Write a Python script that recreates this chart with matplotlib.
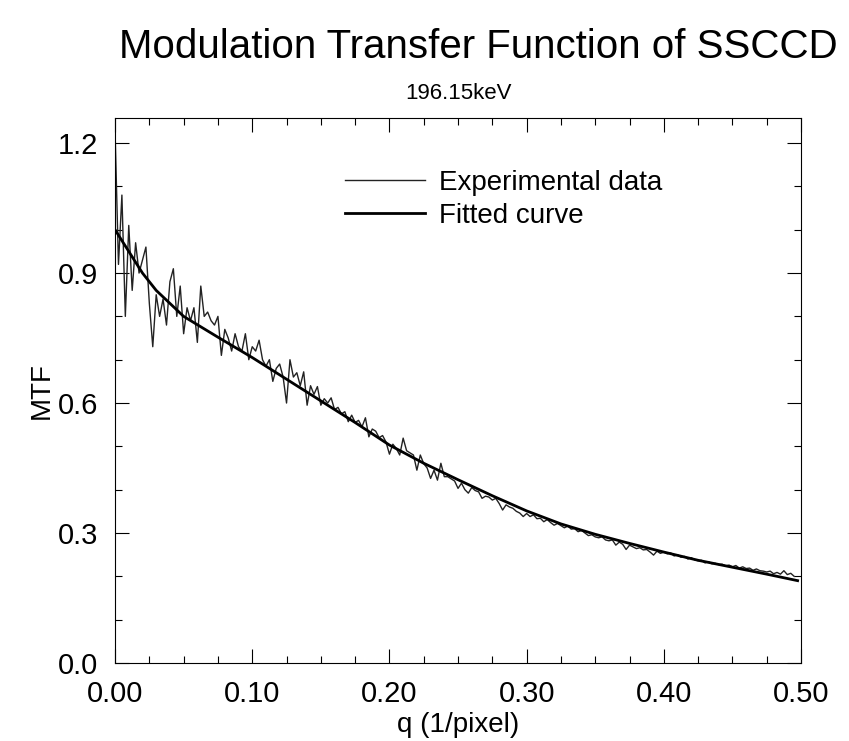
import numpy as np
import matplotlib
matplotlib.use('Agg')
import matplotlib.pyplot as plt
from matplotlib.ticker import MultipleLocator, FormatStrFormatter

plt.rcParams['font.family'] = ['Liberation Sans', 'DejaVu Sans']

# 実験データ（q = 0 .. 0.495, 刻み 0.0025）
mtf_exp = [
    1.23, 0.92, 1.08, 0.80, 1.01, 0.86, 0.97, 0.90, 0.93, 0.96,
    0.83, 0.73, 0.85, 0.80, 0.84, 0.78, 0.88, 0.91, 0.80, 0.87,
    0.76, 0.82, 0.79, 0.82, 0.74, 0.87, 0.80, 0.81, 0.79, 0.78,
    0.80, 0.71, 0.77, 0.75, 0.72, 0.76, 0.73, 0.72, 0.76, 0.70,
    0.73, 0.72, 0.745, 0.70, 0.685, 0.70, 0.65, 0.68, 0.69, 0.66,
    0.60, 0.70, 0.66, 0.67, 0.64, 0.672, 0.595, 0.64, 0.62, 0.638,
    0.595, 0.61, 0.60, 0.612, 0.585, 0.59, 0.575, 0.58, 0.557, 0.572,
    0.555, 0.56, 0.545, 0.566, 0.522, 0.54, 0.535, 0.52, 0.525, 0.51,
    0.482, 0.505, 0.495, 0.48, 0.519, 0.49, 0.485, 0.48, 0.445, 0.48,
    0.46, 0.45, 0.426, 0.445, 0.422, 0.461, 0.43, 0.43, 0.425, 0.42,
    0.403, 0.415, 0.40, 0.392, 0.405, 0.398, 0.395, 0.38, 0.385, 0.383,
    0.376, 0.38, 0.368, 0.353, 0.365, 0.36, 0.357, 0.35, 0.346, 0.338,
    0.345, 0.338, 0.342, 0.333, 0.334, 0.326, 0.331, 0.324, 0.318, 0.322,
    0.317, 0.312, 0.316, 0.309, 0.31, 0.303, 0.306, 0.300, 0.294, 0.296,
    0.291, 0.289, 0.291, 0.284, 0.282, 0.284, 0.272, 0.279, 0.274, 0.262,
    0.272, 0.268, 0.264, 0.266, 0.261, 0.262, 0.256, 0.249, 0.258, 0.253,
    0.256, 0.252, 0.254, 0.247, 0.250, 0.244, 0.246, 0.240, 0.243, 0.238,
    0.236, 0.237, 0.231, 0.234, 0.229, 0.230, 0.227, 0.228, 0.224, 0.226,
    0.222, 0.225, 0.219, 0.222, 0.218, 0.219, 0.214, 0.217, 0.213, 0.212,
    0.210, 0.212, 0.206, 0.209, 0.205, 0.213, 0.204, 0.207, 0.200,
]
q_exp = np.linspace(0, 0.495, len(mtf_exp))

# フィット曲線
q_fit = [0, 0.01, 0.02, 0.03, 0.04, 0.05, 0.075, 0.1, 0.125, 0.15, 0.175, 0.2,
         0.225, 0.25, 0.275, 0.3, 0.325, 0.35, 0.375, 0.4, 0.425, 0.45, 0.475, 0.4975]
mtf_fit = [1.00, 0.95, 0.90, 0.86, 0.83, 0.80, 0.752, 0.705, 0.655, 0.605, 0.555, 0.503,
           0.461, 0.423, 0.386, 0.351, 0.321, 0.297, 0.276, 0.256, 0.237, 0.221, 0.205, 0.19]

fig = plt.figure(figsize=(8.49, 7.41), dpi=100)
ax = fig.add_axes([0.1355, 0.1053, 0.808, 0.7355])

ax.plot(q_exp, mtf_exp, color='#222222', lw=1.0, label='Experimental data')
ax.plot(q_fit, mtf_fit, color='black', lw=2.0, label='Fitted curve')

ax.set_xlim(0, 0.5)
ax.set_ylim(0, 1.258)
ax.xaxis.set_major_locator(MultipleLocator(0.1))
ax.xaxis.set_minor_locator(MultipleLocator(0.025))
ax.yaxis.set_major_locator(MultipleLocator(0.3))
ax.yaxis.set_minor_locator(MultipleLocator(0.1))
ax.xaxis.set_major_formatter(FormatStrFormatter('%.2f'))
ax.yaxis.set_major_formatter(FormatStrFormatter('%.1f'))
ax.tick_params(which='both', direction='in', top=True, right=True, labelsize=21, width=0.8)
ax.tick_params(which='major', length=10)
ax.tick_params(which='minor', length=5)
ax.tick_params(axis='x', which='major', pad=12)
ax.tick_params(axis='y', which='major', pad=12)
for s in ax.spines.values():
    s.set_linewidth(0.8)

ax.set_xlabel('q (1/pixel)', fontsize=20, labelpad=3)
ax.set_ylabel('MTF', fontsize=20, labelpad=2)

fig.text(0.563, 0.936, 'Modulation Transfer Function of SSCCD', fontsize=29, ha='center', va='center')
fig.text(0.54, 0.874, '196.15keV', fontsize=16, ha='center', va='center')

ax.legend(loc='upper left', bbox_to_anchor=(0.335, 0.905), frameon=False, fontsize=20,
          handlelength=2.9, handletextpad=0.5, labelspacing=0.25, borderpad=0, borderaxespad=0)

fig.savefig('out.png', dpi=100)
